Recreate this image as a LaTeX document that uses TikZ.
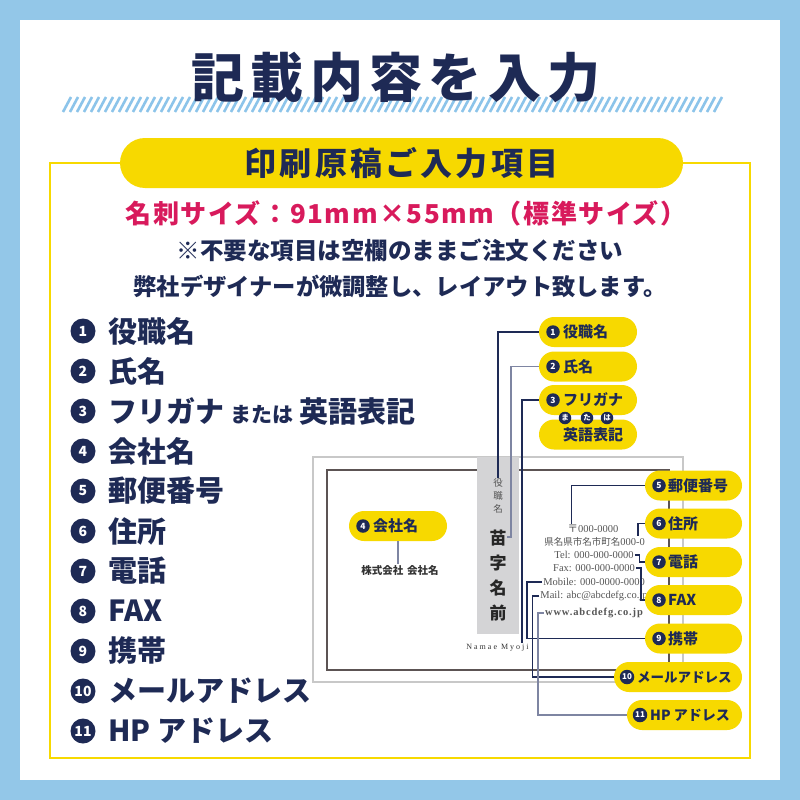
\documentclass[tikz,border=0pt]{standalone}
\usepackage{fontspec}
\setmainfont{Liberation Serif}
\newfontfamily\jp{Noto Sans CJK JP}
\newfontfamily\jpspaced{Noto Sans CJK JP}[LetterSpace=10]
\usetikzlibrary{positioning}

\definecolor{skyblue}{HTML}{93C7E8}
\definecolor{stripeblue}{HTML}{8CC4EA}
\definecolor{navy}{HTML}{1E2A55}
\definecolor{softnavy}{HTML}{7E85A2}
\definecolor{signyellow}{HTML}{F7D900}
\definecolor{rose}{HTML}{D81A5C}
\definecolor{bandgrey}{HTML}{D4D4D6}
\definecolor{cardgrey}{HTML}{C8C8C8}
\definecolor{cardline}{HTML}{5C5454}
\definecolor{inkgrey}{HTML}{555555}
\newcommand{\setfs}[1]{\fontsize{#1}{#1}\selectfont}

\begin{document}
\begin{tikzpicture}[x=1pt, y=-1pt,
    badge/.style={circle, fill=navy, text=white, inner sep=0pt, minimum size=25pt, font=\jp\bfseries\setfs{14}},
    item/.style={anchor=west, text=navy, inner sep=0pt, font=\jp\bfseries\setfs{29}},
    pill/.style={rectangle, rounded corners=15pt, fill=signyellow, minimum height=30pt, inner sep=0pt},
    tag/.style={circle, fill=navy, text=white, inner sep=0pt, minimum size=13.5pt, font=\jp\bfseries\setfs{8.5}},
    tagtext/.style={anchor=west, text=navy, inner sep=0pt, font=\jp\bfseries\setfs{15}},
    addr/.style={text=inkgrey, inner sep=1pt, font=\setfs{10.5}},
    link/.style={draw=navy, line width=1.2pt},
    softlink/.style={draw=softnavy, line width=1.6pt},
    stripe/.style={draw=stripeblue, line width=2.6pt}]

  % Background
  \fill[skyblue] (0,0) rectangle (800,800);
  \fill[white] (20,20) rectangle (780,780);
  \useasboundingbox (0,0) rectangle (800,800);

  % Title
  \foreach \x in {63,70,...,719}
    \draw[stripe] (\x,112) -- (\x+8,97);
  \node[text=navy, font=\jpspaced\bfseries\setfs{53}\addfontfeature{LetterSpace=12}] (title) at (396,77) {記載内容を入力};

  % Frame and heading
  \draw[draw=signyellow, line width=2.2pt] (50,163) rectangle (750,758);
  \node[rounded corners=25pt, fill=signyellow, minimum width=563pt, minimum height=50pt,
        text=navy, font=\jpspaced\bfseries\setfs{32}] (heading) at (401.5,163) {印刷原稿ご入力項目};
  \node[text=rose, font=\jp\bfseries\setfs{26}\addfontfeature{LetterSpace=6}] (sizeNote) at (406,213) {名刺サイズ：91mm×55mm（標準サイズ）};
  \node[text=navy, font=\jp\bfseries\setfs{23.5}] (blankNote) at (400,250) {※不要な項目は空欄のままご注文ください};
  \node[text=navy, font=\jp\bfseries\setfs{23.3}] (layoutNote) at (400,286) {弊社デザイナーが微調整し、レイアウト致します。};

  % Item list
  \foreach \t [count=\i] in {役職名, 氏名, {フリガナ\hspace{6pt}{\setfs{21}または}\hspace{6pt}英語表記},
      会社名, 郵便番号, 住所, 電話, FAX, 携帯, メールアドレス, HP アドレス} {
    \node[badge] (num\i) at (83,291+40*\i) {\i};
    \node[item] (item\i) at (108,291+40*\i) {\t};
  }

  % Card
  \draw[draw=cardgrey, line width=1.5pt] (313,457) rectangle (683,682);
  \draw[draw=cardline, line width=1.5pt] (327,470) rectangle (669,670);
  \fill[bandgrey] (477,457) rectangle (519,634);
  \node[text=inkgrey, align=center, inner sep=0pt, font=\jp\fontsize{9.5}{13}\selectfont] (roleText) at (498,496) {役\\職\\名};
  \node[text=black!85, align=center, inner sep=0pt, font=\jp\bfseries\fontsize{17}{25}\selectfont] (nameText) at (498,575.5) {苗\\字\\名\\前};
  \node[text=black!80, inner sep=0pt, font=\setfs{8}] (romaji) at (497.5,648) {\addfontfeature{LetterSpace=25}Namae Myoji};
  \node[text=black!80, inner sep=1pt, font=\jp\bfseries\setfs{10.5}] (company) at (400,570) {株式会社\hspace{4pt}会社名};
  \node[addr] (addrZip) at (593,529) {{\jp 〒}000-0000};
  \node[addr] (addrCity) at (594.5,542) {{\jp\setfs{9.5}県名県市名市町名}000-0};
  \node[addr] (addrTel) at (594,555) {Tel: 000-000-0000};
  \node[addr] (addrFax) at (594,568) {Fax: 000-000-0000};
  \node[addr] (addrMob) at (594,582) {Mobile: 000-0000-0000};
  \node[addr] (addrMail) at (594,596) {Mail: abc@abcdefg.co.jp};
  \node[addr, font=\bfseries\setfs{10.5}] (addrWeb) at (594,613) {\addfontfeature{LetterSpace=8}www.abcdefg.co.jp};

  % Connectors
  \coordinate (nameHook) at (511,537);
  \coordinate (romajiHook) at (522,643);
  \node[pill, minimum width=98pt] (pill1) at (588,332) {};
  \node[pill, minimum width=98pt] (pill2) at (588,366.5) {};
  \node[pill, minimum width=98pt] (pill3) at (588,400) {};
  \node[pill, minimum width=98pt] (pill4) at (398,526) {};
  \draw[link] (pill1.west) -| (roleText.north);
  \draw[softlink] (pill2.west) -| (nameHook) -- ++(-4,0);
  \draw[link] (pill3.west) -| (romajiHook);
  \draw[softlink, line width=1.2pt] (pill4.south) -- (pill4.south |- company.north);
  \foreach \n/\y in {5/485.5, 6/523.5, 7/562, 8/600, 9/638.5}
    \node[pill, minimum width=97pt] (pill\n) at (693.5,\y) {};
  \node[pill, minimum width=128pt] (pill10) at (678,677) {};
  \node[pill, minimum width=115pt] (pill11) at (684.5,715) {};
  \draw[link] (pill5.west) -| ([xshift=5pt]addrZip.north west);
  \draw[link] (pill6.west) -| ([xshift=-8pt]addrCity.north east);
  \draw[link] (addrTel.east) -- ++(5,0) |- (pill7.west);
  \draw[link] (addrFax.east) -- ++(5,0) |- (pill8.west);
  \draw[link] (addrMob.west) -- ++(-15,0) |- (pill9.west);
  \draw[link] (addrMail.west) -- ++(-7,0) |- (pill10.west);
  \draw[softlink] (addrWeb.west) -- ++(-6,0) |- (pill11.west);

  % Pills
  \node[pill, minimum width=98pt] (pill3b) at (588,434.5) {};
  \foreach \n/\y/\t in {1/332/役職名, 2/366.5/氏名, 3/400/フリガナ} {
    \node[tag] (tag\n) at (553,\y) {\n};
    \node[tagtext] (label\n) at (563,\y) {\t};
  }
  \node[tagtext] (label3b) at (563,434.5) {英語表記};
  \foreach \c/\x in {ま/565, た/587, は/607}
    \node[tag, minimum size=12.5pt, font=\jp\bfseries\setfs{7.5}] at (\x,418) {\c};
  \node[tag] (tag4) at (363,526) {4};
  \node[tagtext] (label4) at (373,526) {会社名};
  \foreach \n/\y/\t in {5/485.5/郵便番号, 6/523.5/住所, 7/562/電話, 8/600/FAX, 9/638.5/携帯} {
    \node[tag] (tag\n) at (659,\y) {\n};
    \node[tagtext] (label\n) at (668,\y) {\t};
  }
  \node[tag, minimum size=14.5pt, font=\jp\bfseries\setfs{8}] (tag10) at (627,677) {10};
  \node[tagtext, font=\jp\bfseries\setfs{13.5}] (label10) at (637,677) {メールアドレス};
  \node[tag, minimum size=14.5pt, font=\jp\bfseries\setfs{8}] (tag11) at (640,715) {11};
  \node[tagtext, font=\jp\bfseries\setfs{14}] (label11) at (650,715) {HP アドレス};

\end{tikzpicture}
\end{document}
